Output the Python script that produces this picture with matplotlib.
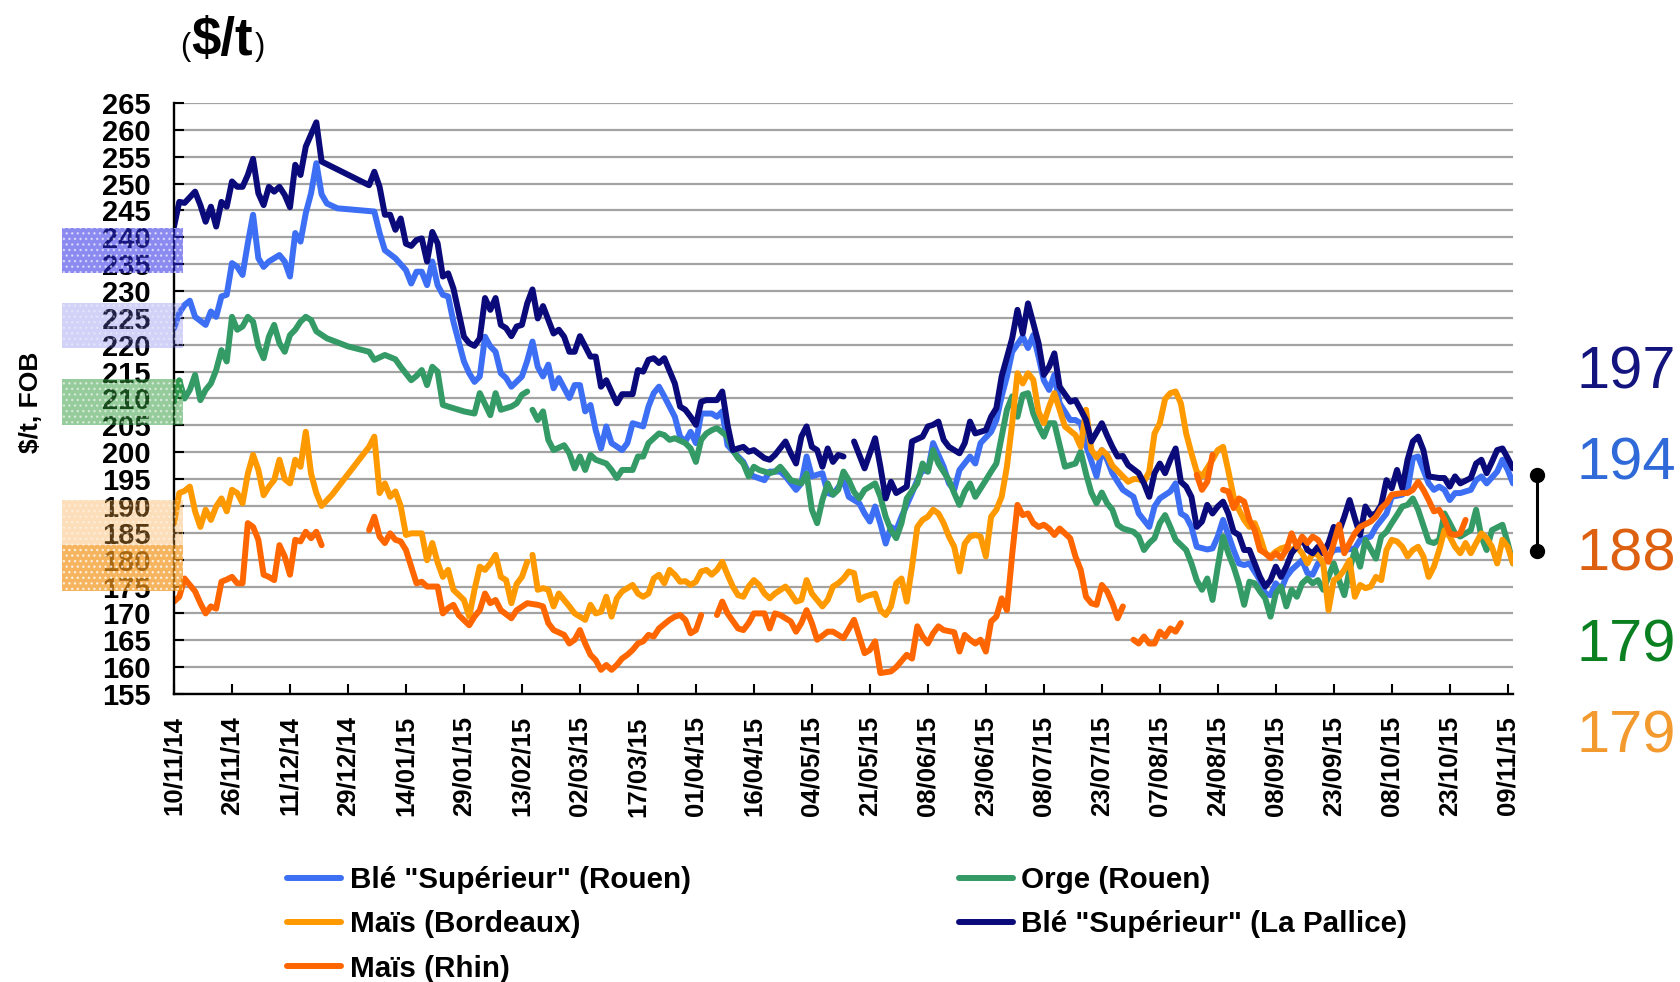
import matplotlib.pyplot as plt
import numpy as np
from matplotlib.patches import Rectangle
from matplotlib.transforms import blended_transform_factory

plt.rcParams['font.family'] = ['Liberation Sans', 'DejaVu Sans']

# x axis: one point per quotation day, a date label every 11 points
n_points = 255
label_step = 11
date_labels = ['10/11/14', '26/11/14', '11/12/14', '29/12/14', '14/01/15', '29/01/15',
               '13/02/15', '02/03/15', '17/03/15', '01/04/15', '16/04/15', '04/05/15',
               '21/05/15', '08/06/15', '23/06/15', '08/07/15', '23/07/15', '07/08/15',
               '24/08/15', '08/09/15', '23/09/15', '08/10/15', '23/10/15', '09/11/15']

# (day index, $/t), None = no quotation
ble_rouen = [(0,223.1),(1,225.9),(2,227.4),(3,228.2),(4,225.2),(6,223.7),(7,226.2),(8,225.2),(9,229),(10,229.3),
    (11,235.2),(12,234.5),(13,233),(14,238.9),(15,244.2),(16,236.1),(17,234.5),(18,235.5),(20,236.7),(21,235.5),
    (22,232.7),(23,240.8),(24,239.2),(25,244.5),(26,248.2),(27,253.8),(28,248),(29,246.3),(31,245.4),(38,244.8),
    (39,240.8),(40,237.6),(42,236.1),(44,233.9),(45,231.4),(46,233.6),(47,233.6),(48,231.1),(49,235.5),(50,231.1),
    (51,229.3),(52,229),(53,224.3),(55,216.9),(56,214.7),(57,213.1),(58,214.1),(59,221.5),(60,219.7),(61,218.7),
    (62,214.7),(63,213.8),(64,212.2),(66,214.1),(67,217),(68,220.6),(69,215.9),(70,214.1),(71,216.3),(72,211.9),
    (73,213.8),(75,210.1),(76,212.5),(77,212.5),(78,207.6),(79,208.8),(80,204.1),(81,200.7),(82,204.8),(83,201.7),
    (85,200.4),(86,201.7),(87,205.4),(88,205.1),(89,204.8),(90,208.5),(91,211),(92,212.2),(93,210.4),(95,206.6),
    (96,202.9),(97,202),(98,203.8),(99,201.7),(100,207.2),(102,207.2),(103,206.6),(104,207.6),(105,201.3),(107,199.2),
    (108,198.2),(109,196.1),(110,195.5),(112,194.8),(113,196.4),(115,196.4),(116,195.5),(118,193),(119,194.2),(120,199.2),
    (121,195.5),(123,196.1),(124,192.4),(125,192.1),(127,194.8),(128,191.7),(130,190.5),(131,188.6),(132,187.1),(133,189.9),
    (134,186.7),(135,183),(136,186.1),(137,185.5),(138,188),(140,192.4),(141,194.8),(142,196.7),(143,196.4),(144,201.7),
    (146,197.3),(147,194.2),(148,193),(149,196.7),(151,199.2),(152,197.9),(153,201.7),(155,203.8),(156,206),(157,210.4),
    (158,214.1),(159,218.7),(161,221.5),(162,219.4),(163,221.8),(164,217.8),(165,213.4),(166,211.6),(167,214.4),(168,209.1),
    (170,206),(171,206),(172,205.4),(173,201.3),(175,195.5),(176,200.4),(177,198.6),(178,196.1),(179,194.5),(180,193),
    (182,191.7),(183,188.6),(185,186.1),(186,189.9),(187,191.4),(189,192.7),(190,194.2),(191,188.6),(192,188),(193,186.1),
    (194,182.4),(196,181.9),(197,182.1),(198,184.3),(199,187.4),(200,184.6),(201,181.8),(202,179.3),(203,179),(204,179.3),
    (206,176.2),(207,173.7),(208,173.4),(209,175.6),(210,174.4),(211,176.8),(212,178.1),(214,179.9),(215,177.5),(216,177.2),
    (217,179.3),(218,179.3),(220,181.8),(221,181.9),(222,181.8),(224,182.1),(225,183.7),(226,184),(227,184.3),(228,186.1),
    (230,188.6),(231,191.7),(233,192.1),(234,193),(235,198.9),(236,199.2),(238,194.2),(239,193),(240,193.6),(241,193),
    (242,191.1),(243,192.4),(244,192.4),(246,193),(247,194.8),(248,195.5),(249,194.2),(251,196.4),(252,198.6),(253,196.7),
    (254,194.2)]

orge_rouen = [(0,209.4),(1,213.4),(2,210),(3,211.6),(4,214.4),(5,209.7),(6,211.6),(7,212.8),(8,215.3),(9,219),
    (10,216.9),(11,225.2),(12,222.8),(13,223.4),(14,225.2),(15,224.3),(16,219.7),(17,217.5),(18,221.5),(19,223.7),
    (20,220.3),(21,218.7),(22,221.8),(23,222.8),(24,224.3),(25,225.2),(26,224.6),(27,222.5),(29,221.2),(33,219.7),
    (37,218.7),(38,217.2),(40,218.1),(42,217.3),(43,215.9),(45,213.4),(46,214.2),(47,215.3),(48,212.5),(49,215.9),
    (50,215),(51,208.8),(53,208.2),(55,207.6),(57,207.2),(58,211),(60,206.9),(61,211),(62,207.9),(64,208.5),
    (65,209.1),(66,210.7),(67,211.3),(67.5,None),(68,207.9),(69,206),(70,207.6),(71,202.3),(72,200.4),(74,201.3),
    (75,199.8),(76,197),(77,199.2),(78,196.7),(79,199.5),(80,198.6),(82,197.9),(83,196.7),(84,195.2),(85,196.7),
    (87,196.7),(88,199.2),(89,199.2),(90,201.7),(92,203.5),(93,203.2),(94,202.3),(95,202.6),(97,201.7),(98,200.7),
    (99,198.2),(100,202.3),(101,203.5),(102,204.1),(103,204.5),(105,202.9),(106,200.4),(107,198.9),(108,197.9),(109,195.5),
    (110,197.3),(111,196.7),(113,196.1),(114,196.4),(115,197.3),(116,196.1),(117,194.8),(119,194.2),(120,196),(121,189.3),
    (122,186.8),(123,191.1),(124,194.2),(125,192.1),(126,193),(127,196.4),(128,194.8),(129,192.6),(130,191.4),(131,193),
    (133,194.2),(134,191.7),(135,188),(136,185.5),(137,184),(138,186.8),(139,191.4),(141,194.2),(142,197.9),(143,196.4),
    (144,200.4),(145,197.9),(147,194.8),(148,192.4),(149,190.2),(150,192.7),(151,194.2),(152,191.7),(154,194.8),(155,196.4),
    (156,197.9),(157,202.9),(158,207.9),(159,210.4),(160,206.6),(161,210.7),(162,211),(163,207.2),(164,204.8),(165,202.9),
    (166,205.4),(167,205.4),(168,201.3),(169,197.3),(171,197.9),(172,200.1),(173,196),(174,192.5),(175,190.5),(176,192.5),
    (177,190.5),(178,189.3),(179,186.5),(180,185.8),(181,185.5),(182,185.2),(183,184.3),(184,181.8),(185,183.1),(186,184),
    (187,186.8),(188,188.3),(189,186.1),(190,183.7),(192,181.8),(193,179.3),(194,176.2),(195,174.4),(196,176.5),(197,172.5),
    (198,178.7),(199,184.3),(200,181.2),(201,178.7),(202,175.6),(203,171.6),(204,175.9),(205,175.6),(206,174.1),(207,172.8),
    (208,169.4),(209,173.7),(210,175),(211,171.3),(212,174.4),(213,173.1),(214,175.6),(215,176.5),(216,175.6),(217,176.2),
    (218,174.4),(219,176.8),(220,179.3),(221,176.2),(222,173.4),(223,178.1),(224,181.8),(225,178.7),(226,183.7),(228,180.2),
    (229,184.3),(230,185.2),(231,186.8),(232,188.3),(233,189.9),(234,190.2),(235,191.4),(236,189.3),(238,183.4),(239,183.1),
    (240,183.7),(241,188.6),(242,186.8),(243,184.9),(244,184.3),(246,185.5),(247,189.3),(248,184.3),(249,181.8),(250,185.5),
    (252,186.5),(253,183.1),(254,179.3)]

mais_bordeaux = [(0,186.8),(1,192.4),(2,192.8),(3,193.6),(4,189),(5,186.1),(6,189.3),(7,187.4),(8,189.9),(9,191.4),
    (10,189),(11,193),(12,192.4),(13,190.5),(14,196),(15,199.5),(16,196.7),(17,192),(18,193.6),(19,194.8),
    (20,198.6),(21,195),(22,194.2),(23,198.6),(24,197.3),(25,203.8),(26,196),(27,192.4),(28,190),(30,192.1),
    (37,201),(38,202.9),(39,192.4),(40,194.2),(41,191.7),(42,192.7),(43,190),(44,184.6),(45,184.9),(47,184.9),
    (48,179.9),(49,183.1),(50,179.5),(51,176.8),(52,178.1),(53,174.4),(55,172.5),(56,169.4),(57,174.4),(58,178.7),
    (59,178.1),(60,179.3),(61,180.9),(62,176.8),(63,176.2),(64,171.9),(65,175.5),(66,176.8),(67,179.6),(67.5,None),
    (68,180.9),(69,174.4),(70,174.7),(71,174.4),(72,171.3),(73,173.7),(74,172.5),(75,171.3),(76,170),(78,168.8),
    (79,171.6),(80,170),(81,170.3),(82,173.1),(83,169.4),(84,172.8),(85,174.1),(87,175.3),(88,173.7),(89,173.1),
    (90,173.7),(91,176.5),(92,177.2),(93,175.6),(94,178.1),(95,177.2),(96,175.9),(97,176),(98,175.3),(99,175.9),
    (100,177.8),(101,178.1),(102,177.2),(103,178.1),(104,179.6),(105,177.2),(106,175),(107,173.4),(108,173.1),(109,175),
    (110,176.2),(111,175.3),(112,173.7),(113,172.8),(114,173.7),(116,175),(117,173.7),(118,172.2),(119,172.5),(120,176.2),
    (121,173.7),(122,172.5),(123,171.3),(124,172.5),(125,175),(126,175.6),(127,176.5),(128,177.8),(129,177.5),(130,172.5),
    (131,173.1),(133,173.7),(134,170.6),(135,169.7),(136,171.3),(137,175.6),(138,176.5),(139,172.2),(140,178.7),(141,186.1),
    (142,187.4),(143,188),(144,189.3),(145,188.6),(146,186.8),(147,184.3),(148,182.4),(149,177.8),(150,183),(151,184.3),
    (152,184.6),(153,184.3),(154,180.6),(155,188),(156,189.3),(157,191.7),(158,197.3),(159,205.4),(160,214.7),(161,212.8),
    (162,214.7),(163,213.5),(164,207.5),(165,205.4),(166,208.5),(167,211),(168,207.9),(169,204.8),(171,203.2),(172,201),
    (173,207.9),(174,200.5),(175,199),(176,200.4),(177,199.5),(178,197.5),(179,196.5),(180,195.5),(181,194.5),(182,195),
    (183,195),(184,194.5),(185,196.4),(186,203.5),(187,205.4),(188,209.9),(189,211),(190,211.3),(191,209.1),(192,203.5),
    (193,199.8),(194,196.4),(195,195.5),(197,198.6),(198,200.4),(199,201),(200,196.5),(201,191.7),(202,189.3),(203,187.4),
    (204,186.1),(205,186.8),(206,184.3),(207,181.2),(208,180.6),(209,181.5),(210,182.1),(211,182.4),(212,181.8),(213,182.4),
    (214,181.2),(215,179.3),(216,181.2),(217,180.9),(218,179.3),(219,170.6),(220,176.2),(221,176.8),(222,178.1),(223,179.9),
    (224,173.1),(225,175.3),(226,174.7),(227,175),(228,176.8),(229,176.2),(230,181.8),(231,183.7),(232,183.4),(233,182.4),
    (234,180.6),(235,181.8),(236,182.4),(237,180.6),(238,176.8),(239,178.7),(240,181.8),(241,185.5),(242,184.3),(243,182.4),
    (244,181.2),(245,183.1),(246,181.2),(247,183.1),(248,184.9),(249,184),(250,182.4),(251,179.3),(252,183.7),(253,182.4),
    (254,179.3)]

ble_la_pallice = [(0,242),(1,246.6),(2,246.4),(4,248.5),(5,246),(6,242.9),(7,245.7),(8,242),(9,246.6),(10,245.7),
    (11,250.4),(12,249.4),(13,249.4),(14,251.6),(15,254.6),(16,248.2),(17,246),(18,249.4),(19,248.5),(20,249.4),
    (21,247.9),(22,245.6),(23,253.5),(24,251.6),(25,256.9),(27,261.4),(28,254.1),(37,249.7),(38,252.2),(39,249.4),
    (40,244.2),(41,244.2),(42,241.4),(43,243.5),(44,238.8),(45,238.4),(46,239.5),(47,239.8),(48,235.5),(49,241),
    (50,238.9),(51,232.7),(52,233.3),(53,230.5),(55,221.5),(56,220.3),(57,219.8),(58,221.2),(59,228.7),(60,226.5),
    (61,228.7),(62,223.7),(63,223.1),(64,221.6),(65,223.4),(66,223.7),(67,227.7),(68,230.3),(69,224.9),(70,227.2),
    (72,222.1),(73,222.8),(74,221.5),(75,218.7),(76,218.7),(77,221.6),(79,217.8),(80,217.8),(81,212.2),(82,213.4),
    (84,209.1),(85,210.8),(87,210.8),(88,215.3),(89,215),(90,217.2),(91,217.5),(92,216.6),(93,217.5),(95,212.8),
    (96,208.5),(97,207.9),(98,206.6),(99,205.1),(100,209.4),(101,209.7),(103,209.7),(104,211.3),(105,205.1),(106,200.4),
    (108,201),(109,200.1),(110,200.4),(112,198.9),(113,198.6),(114,199.5),(116,202),(117,199.8),(118,197.9),(119,202.9),
    (120,204.8),(121,201),(122,200.4),(123,197.3),(124,200.7),(125,198.2),(126,199.5),(127,199.2),(128,None),(129,202),
    (131,197),(133,202.6),(134,197.3),(135,191.4),(136,194.5),(137,192.4),(139,193.6),(140,202),(142,202.9),(143,204.8),
    (144,205.1),(145,205.7),(146,202.3),(147,201),(149,199.8),(150,201.7),(151,205.7),(152,203.5),(154,204.1),(155,206.6),
    (156,208.2),(157,214.1),(159,221.2),(160,226.5),(161,222.1),(162,227.7),(163,224),(164,220.3),(165,214.4),(166,215.9),
    (167,218.4),(168,212.2),(170,209.4),(171,209.7),(172,207.9),(173,206),(174,202),(176,205.4),(177,203.1),(178,201),
    (179,199.2),(180,199.3),(181,197.6),(183,196.1),(184,194.2),(185,191.7),(186,196.1),(187,197.9),(188,196.1),(189,198.6),
    (190,200.7),(191,194.5),(192,193.6),(193,191.7),(194,186.1),(195,187.1),(196,190.2),(197,188.6),(198,189.9),(199,190.8),
    (200,188.6),(201,185.2),(202,184.6),(203,181.8),(204,181.8),(205,179.3),(206,176.8),(207,175),(208,176.2),(209,178.7),
    (210,176.8),(211,178.7),(212,181.2),(213,182.4),(214,184),(215,181.8),(216,181.2),(217,182.4),(218,181.2),(219,183.1),
    (220,186.1),(221,185.2),(222,188),(223,191.1),(224,187.7),(225,184.6),(226,189.9),(227,188.3),(228,188.6),(229,190.2),
    (230,194.8),(231,193.3),(232,196.7),(233,193.3),(234,198.6),(235,202),(236,202.9),(237,200.4),(238,195.5),(240,195.2),
    (241,195.2),(242,193.6),(243,195.5),(244,194.2),(246,195.2),(247,197.9),(248,198.6),(249,196.1),(250,198.2),(251,200.4),
    (252,200.7),(253,198.9),(254,197)]

mais_rhin = [(0,172.2),(1,173.1),(2,176.5),(3,175.3),(4,174.1),(5,171.9),(6,170),(7,171.3),(8,170.9),(9,175.9),
    (10,176.3),(11,176.8),(12,175.6),(13,175.6),(14,186.8),(15,186.1),(16,183.7),(17,177.2),(18,176.8),(19,176.2),
    (20,182.7),(21,180.6),(22,177.2),(23,183.7),(24,183.4),(25,185.2),(26,184),(27,185.2),(28,182.7),(32,None),
    (37,185.5),(38,188),(39,184.3),(40,183.1),(41,184.9),(42,183.7),(43,183.4),(44,181.8),(45,178.7),(46,175.6),
    (47,175.9),(48,175),(50,175),(51,170),(52,171),(53,171.6),(54,169.7),(56,167.8),(57,169.4),(58,170.6),
    (59,173.7),(60,171.9),(61,172.5),(62,170.6),(64,169.1),(65,170.6),(67,171.9),(69,171.6),(70,171.3),(71,168.2),
    (72,166.9),(74,166),(75,164.4),(76,165.1),(77,166.9),(78,164.4),(79,162.3),(80,161.3),(81,159.5),(82,160.4),
    (83,159.5),(84,160.4),(85,161.6),(86,162.3),(87,163.2),(88,164.4),(89,164.8),(90,166),(91,165.7),(92,167.2),
    (94,168.8),(95,169.4),(96,169.7),(97,168.8),(98,166.3),(99,166.9),(100,169.7),(101.5,None),(103,169.7),(104,172.2),
    (105,170),(107,167.2),(108,166.9),(109,168.2),(110,170),(112,170),(113,167.2),(114,170),(115,169.7),(117,168.5),
    (118,166.6),(119,168.2),(120,170.6),(121,168.2),(122,165.1),(124,166.6),(125,166.6),(127,165.4),(129,168.8),(131,162.6),
    (132,163.2),(133,164.8),(134,158.9),(136,159.2),(137,160),(139,162.3),(140,161.6),(141,167.6),(142,165.7),(143,164.4),
    (144,166.3),(145,167.6),(146,166.9),(148,166.5),(149,162.9),(150,166),(151,165.1),(152,164.4),(153,165.1),(154,162.9),
    (155,168.5),(156,169.4),(157,172.8),(158,170.6),(159,181),(160,190.2),(161,188.3),(162,188.6),(163,186.8),(164,186.1),
    (165,186.5),(166,185.8),(167,184.6),(168,185.8),(169,184.9),(170,184),(171,180.6),(172,178.1),(173,173.1),(174,171.9),
    (175,171.6),(176,175.3),(177,174.1),(178,171.9),(179,169.1),(180,171.3),(181,None),(182,165.1),(183,164.4),(184,165.7),
    (185,164.4),(186,164.4),(187,166.6),(188,165.7),(189,167.2),(190,166.6),(191,168.2),(192.5,None),(194,195.8),(195,193),
    (196,194.5),(197,199.5),(198,None),(199,193),(200,192.7),(201,189.6),(202,191.4),(203,190.8),(204,187.4),(205,185.5),
    (206,181.8),(207,181.2),(208,180.3),(209,181.2),(210,180.3),(211,181.8),(212,184.9),(213,182.4),(214,184.3),(215,183.1),
    (216,184.3),(217,183.7),(218,182.1),(219,179.6),(220,183.1),(221,186.5),(222,181.2),(223,183.1),(224,184.9),(225,186.1),
    (227,187.1),(228,188),(229,189.6),(230,190.5),(231,192.1),(233,192.4),(234,192.4),(235,193),(236,194.5),(237,193),
    (238,191.1),(239,189),(240,189.3),(241,187.4),(242,184.9),(243,184.6),(244,184.9),(245,187.4)]

series_names = ['Blé "Supérieur" (Rouen)', 'Orge (Rouen)', 'Maïs (Bordeaux)',
                'Blé "Supérieur" (La Pallice)', 'Maïs (Rhin)']
series_colors = ['#3d6ff5', '#349a66', '#ff9900', '#0a0a7a', '#ff6600']

# latest prices written on the right, top to bottom
end_values = ['197', '194', '188', '179', '179']
end_colors = ['#14147f', '#2f6ad8', '#dd6010', '#0a8020', '#f39a2e']

# shaded price bands on the left of the y axis ($/t)
bands = [(233.4, 241.7), (219.4, 227.8), (205.1, 213.6), (182.7, 191.1), (174.2, 182.7)]
band_colors = ['#2a2ae6', '#6a6ae8', '#2e9a3a', '#f7a63a', '#f29418']
band_alpha = [0.55, 0.3, 0.5, 0.35, 0.7]
spread_range = (181.6, 195.8)

W, H = 1681, 982
fig = plt.figure(figsize=(W / 100, H / 100), dpi=100)
ax = fig.add_axes([174 / W, 1 - 694 / H, (1513 - 174) / W, (694 - 103) / H])

lines = []
for pairs, name, color in zip([ble_rouen, orge_rouen, mais_bordeaux, ble_la_pallice, mais_rhin],
                              series_names, series_colors):
    arr = np.array(pairs, dtype=float)
    ln, = ax.plot(arr[:, 0], arr[:, 1], color=color, lw=4.3, label=name,
                  solid_joinstyle='round', solid_capstyle='round')
    lines.append(ln)

ax.set_xlim(0, n_points - 1)
ax.set_ylim(155, 265)
ax.set_yticks(np.arange(155, 266, 5))
ax.set_xticks(np.arange(0, n_points, label_step)[:len(date_labels)])
ax.set_xticklabels(date_labels, rotation=90)
for lab in ax.get_xticklabels() + ax.get_yticklabels():
    lab.set_fontweight('bold')
ax.tick_params(axis='y', direction='in', length=7, width=1.5, labelsize=21, pad=17)
ax.tick_params(axis='x', direction='in', length=7, width=1.5, labelsize=18.5, pad=16)
ax.grid(axis='y', color='#a3a3a3', lw=1.6)
ax.set_axisbelow(True)
for s in ['top', 'right']:
    ax.spines[s].set_visible(False)
for s in ['left', 'bottom']:
    ax.spines[s].set_linewidth(1.7)

# title "($/t)" : small brackets around a big bold unit
renderer = fig.canvas.get_renderer()
t_open = fig.text(180 / W, 1 - 55 / H, '(', fontsize=22, va='baseline', ha='left')
t_unit = fig.text(191 / W, 1 - 55 / H, '$/t', fontsize=38, fontweight='bold', va='baseline', ha='left')
unit_box = t_unit.get_window_extent(renderer)
fig.text((unit_box.x1 + 2) / W, 1 - 55 / H, ')', fontsize=22, va='baseline', ha='left')

fig.text(31 / W, 1 - 402 / H, '$/t, FOB', rotation=90, fontsize=19, fontweight='bold',
         ha='center', va='center')

# left bands (over the tick labels)
tr = blended_transform_factory(fig.transFigure, ax.transData)
for (lo, hi), c, a in zip(bands, band_colors, band_alpha):
    ax.add_patch(Rectangle((62 / W, lo), (183 - 62) / W, hi - lo, transform=tr,
                           facecolor=c, alpha=a, edgecolor='white', hatch='...',
                           lw=0, clip_on=False, zorder=5))

# spread bar
ax.plot([1537 / W, 1537 / W], spread_range, transform=tr, color='black', lw=2.2,
        marker='o', markersize=10, clip_on=False)

# latest values
for i, (txt, c) in enumerate(zip(end_values, end_colors)):
    fig.text(1577 / W, 1 - (373 + i * 91) / H, txt, color=c, fontsize=43,
             ha='left', va='center')

order = [0, 2, 4, 1, 3]
ax.legend([lines[i] for i in order], [series_names[i] for i in order], ncol=2,
          loc='upper left', bbox_to_anchor=(287 / W, 1 - 866 / H), bbox_transform=fig.transFigure,
          frameon=False, prop={'weight': 'bold', 'size': 21.3}, handlelength=1.82,
          handletextpad=0.3, labelspacing=0.55, columnspacing=9.06, borderpad=0, borderaxespad=0)

fig.savefig('out.png', dpi=100)
